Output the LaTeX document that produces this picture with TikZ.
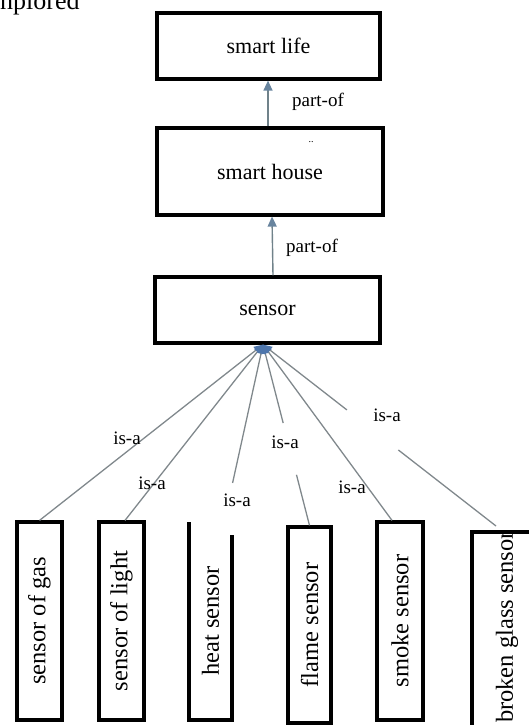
\documentclass[tikz,border=0pt]{standalone}
\usepackage{fontspec}
\setmainfont{Liberation Serif}
\usetikzlibrary{calc,arrows.meta}
\definecolor{conncol}{RGB}{128,136,140}
\definecolor{tipc}{RGB}{78,118,172}
\definecolor{toptip}{RGB}{104,132,158}
\definecolor{topline}{RGB}{112,130,138}
\begin{document}
\begin{tikzpicture}[x=1pt,y=-1pt,
  box/.style={draw,line width=3.2pt,inner sep=0pt,font=\fontsize{22}{24}\selectfont},
  vbox/.style={box,rotate=90,font=\fontsize{24.5}{27}\selectfont},
  lbl/.style={font=\fontsize{19}{21}\selectfont,inner sep=0pt,anchor=base},
  conn/.style={draw=conncol,line width=1.3pt},
  isa/.style={conn,-{Triangle[length=9pt,width=8pt,fill=tipc,color=tipc]}},
  pof/.style={draw=topline,line width=1.4pt,-{Triangle[length=10pt,width=9pt,fill=toptip,color=toptip]}}]
\useasboundingbox (0,0) rectangle (529,725);
\clip (0,0) rectangle (529,725);

% fragment of text above the figure
\node[font=\fontsize{26}{28}\selectfont,inner sep=0pt,anchor=base west] (frag) at (0,9.5) {nplored};

% upper boxes
\node[box,minimum width=223pt,minimum height=66pt] (life) at (268.5,46) {smart life};
\node[box,minimum width=226pt,minimum height=87pt] (house) at (270,171.5) {smart house};
\node[font=\fontsize{10}{10}\selectfont,inner sep=0pt] (dots) at (311,142) {..};
\node[box,minimum width=225pt,minimum height=66pt] (sensor) at (267.5,310) {sensor};

% part-of arrows
\draw[pof] ($(house.north)+(-2,0)$) -- ($(life.south)+(-0.5,0)$);
\node[lbl] (pof1) at (318,106) {part-of};
\draw[pof] ($(sensor.north)+(5.5,0)$) -- ($(house.south)+(2,0)$);
\node[lbl] (pof2) at (312,252) {part-of};

% lower boxes
\node[vbox,minimum width=198pt,minimum height=45pt] (gas) at (39.5,621) {sensor of gas};
\node[vbox,minimum width=198pt,minimum height=45pt] (light) at (121.5,621) {sensor of light};
\node[vbox,draw=none,minimum width=198pt,minimum height=43pt] (heat) at (210.5,621) {heat sensor};
\draw[line width=3.2pt] (232,535) -- (232,720) -- (189,720) -- (189,522);
\node[vbox,minimum width=196pt,minimum height=43pt] (flame) at (309.5,625) {flame sensor};
\node[vbox,minimum width=198pt,minimum height=46pt] (smoke) at (400,621) {smoke sensor};
\node[vbox,minimum width=214pt,minimum height=70pt] (broken) at (507,639) {};
\node[rotate=90,inner sep=0pt,font=\fontsize{24.5}{27}\selectfont] (brokentxt) at (507,627) {broken glass sensor};

% is-a connectors
\coordinate (S) at ($(sensor.south)+(-4.5,0)$);
\coordinate (heatT) at ($(heat.east)+(13.5,1.6)$);
\coordinate (brokenT) at ($(broken.east)+(-11,-4.4)$);

\draw[isa] (gas.east) -- (S);
\draw[isa] ($(light.east)+(3.5,0)$) -- (S);
\draw[isa] ($(S)!0.78!(heatT)$) -- (S);
\draw[conn] (flame.east) -- ($(S)!0.72!(flame.east)$);
\draw[isa] ($(S)!0.434!(flame.east)$) -- (S);
\draw[isa] ($(smoke.east)+(-8,0)$) -- (S);
\draw[conn] (brokenT) -- ($(S)!0.581!(brokenT)$);
\draw[isa] ($(S)!0.36!(brokenT)$) -- (S);

% is-a labels
\node[lbl] (l1) at (127,444) {is-a};
\node[lbl] (l2) at (152,489) {is-a};
\node[lbl] (l3) at (237,506) {is-a};
\node[lbl] (l4) at (285,448) {is-a};
\node[lbl] (l5) at (352,493) {is-a};
\node[lbl] (l6) at (387,421) {is-a};
\end{tikzpicture}
\end{document}
